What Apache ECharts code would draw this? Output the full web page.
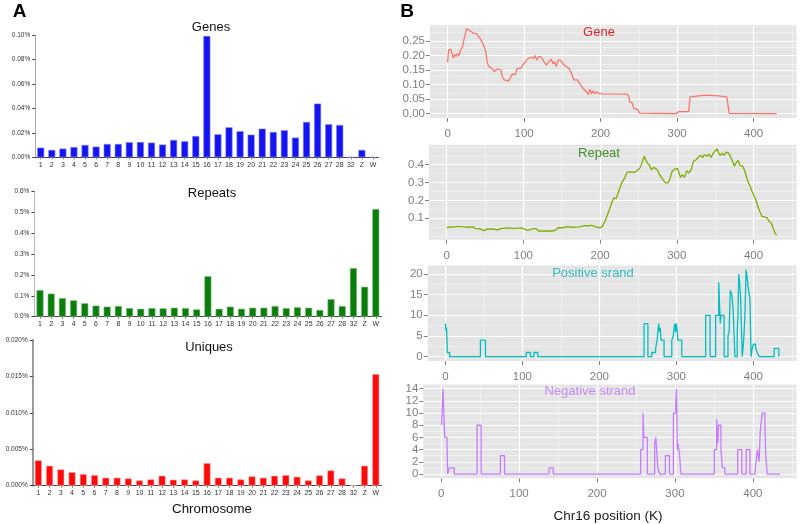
<!DOCTYPE html>
<html><head><meta charset="utf-8">
<script src="https://cdn.jsdelivr.net/npm/echarts@6/dist/echarts.min.js"></script>
<style>html,body{margin:0;padding:0;background:#fff}#c{width:800px;height:524px}</style>
</head><body><div id="c"></div>
<script>
// ---------- Panel A data (percent) ----------
const chromosomes = ['1','2','3','4','5','6','7','8','9','10','11','12','13','14','15','16','17','18','19','20','21','22','23','24','25','26','27','28','32','Z','W'];
const genesPct = [0.0079,0.006,0.0071,0.0084,0.0101,0.0087,0.0109,0.0109,0.0123,0.0125,0.012,0.0104,0.0142,0.0131,0.0174,0.0992,0.0188,0.0245,0.0213,0.0185,0.0234,0.0207,0.0221,0.0161,0.0289,0.0439,0.027,0.0264,0,0.006,0];
const repeatsPct = [0.127,0.11,0.089,0.078,0.064,0.053,0.048,0.051,0.041,0.038,0.041,0.04,0.043,0.041,0.035,0.193,0.038,0.048,0.038,0.043,0.043,0.051,0.041,0.045,0.043,0.032,0.084,0.051,0.232,0.143,0.514];
const uniquesPct = [0.00348,0.00274,0.00224,0.00187,0.0016,0.00146,0.0011,0.0011,0.001,0.00073,0.00087,0.00137,0.00082,0.00087,0.00073,0.00311,0.0011,0.0011,0.00087,0.00128,0.0011,0.00137,0.00146,0.00123,0.00073,0.00142,0.0021,0.001,0,0.00274,0.01532];
const genesTicks = [0, 0.10, 0.02];
const repeatsTicks = [0, 0.6, 0.1];
const uniquesTicks = [0, 0.020, 0.005];

// ---------- Panel B data: [position K, value] ----------
const geneDensity = [[0,0.177],[1.3,0.219],[3,0.214],[4.3,0.221],[6,0.219],[7.4,0.19],[9,0.205],[11,0.196],[13,0.207],[15,0.2],[17,0.219],[19.6,0.23],[21.7,0.259],[24.8,0.292],[27,0.289],[30,0.284],[33.5,0.277],[37.8,0.275],[41,0.265],[44.8,0.248],[47.8,0.23],[50,0.213],[52,0.173],[54,0.162],[58,0.156],[61,0.145],[63,0.15],[65,0.154],[69.6,0.15],[71.7,0.127],[74,0.116],[76,0.122],[79.6,0.112],[82.6,0.127],[84.8,0.137],[88,0.133],[91,0.156],[95.6,0.156],[100,0.173],[104,0.187],[108.7,0.194],[111,0.198],[112,0.19],[114,0.2],[116.5,0.185],[118.7,0.196],[121.7,0.196],[126,0.179],[129,0.167],[132.6,0.179],[135.6,0.187],[137.8,0.171],[140,0.179],[142,0.162],[144.8,0.185],[147.8,0.183],[151,0.171],[154,0.164],[158.7,0.156],[161,0.145],[165,0.116],[169.6,0.116],[172.6,0.104],[176,0.091],[180,0.079],[184,0.066],[186,0.084],[188,0.068],[190,0.079],[192.6,0.068],[194,0.075],[197.8,0.07],[202,0.068],[234.8,0.067],[237,0.058],[238,0.041],[241,0.038],[243.5,0.018],[245.6,0.013],[249,0.013],[251,0.002],[297.8,0],[302,0.007],[315,0.007],[317,0.058],[319.6,0.064],[337,0.064],[350,0.062],[352,0.058],[365,0.058],[368,0.001],[430,0]];
const repeatDensity = [[0,0.046],[3,0.052],[7,0.05],[12,0.053],[16,0.053],[18,0.048],[22.5,0.052],[29,0.05],[34.6,0.052],[37.6,0.042],[43,0.042],[46,0.035],[49,0.031],[52.8,0.04],[61,0.04],[66.6,0.035],[70,0.042],[78.7,0.046],[87,0.044],[98,0.046],[100,0.042],[104.6,0.033],[109,0.037],[112,0.042],[116.8,0.042],[119.8,0.029],[130.6,0.029],[139,0.029],[142.7,0.037],[145.7,0.048],[152,0.046],[156.5,0.053],[163,0.05],[173.8,0.052],[180,0.059],[184.6,0.057],[189,0.061],[192,0.055],[194.6,0.046],[199.8,0.046],[203,0.055],[206,0.079],[209,0.111],[212.8,0.158],[216,0.195],[217.9,0.214],[221,0.21],[225,0.26],[228,0.298],[232,0.325],[235,0.357],[239.6,0.36],[245,0.357],[247.6,0.366],[249.5,0.372],[252.5,0.385],[255,0.415],[257.7,0.447],[259.5,0.428],[261.6,0.409],[264.6,0.396],[266.8,0.372],[269.8,0.385],[272,0.396],[274.6,0.372],[277.6,0.344],[279.8,0.335],[282.8,0.311],[285.4,0.298],[288.4,0.298],[290.6,0.316],[294,0.363],[297,0.374],[299,0.366],[300.9,0.381],[302.7,0.353],[304.9,0.329],[307,0.344],[310,0.329],[313,0.366],[315.7,0.353],[318.7,0.372],[321.7,0.419],[325,0.428],[327.3,0.419],[330.4,0.452],[333.8,0.441],[336,0.456],[339,0.447],[341.6,0.46],[344.6,0.441],[347.7,0.465],[350,0.471],[352.4,0.489],[354.6,0.465],[356.8,0.452],[359,0.465],[361.9,0.452],[364,0.471],[367.6,0.465],[369.3,0.456],[372.7,0.419],[375,0.391],[377,0.409],[380,0.424],[382.5,0.396],[385.9,0.391],[388,0.372],[390,0.344],[392.6,0.307],[395.5,0.279],[398,0.251],[401,0.223],[403,0.204],[405,0.176],[408,0.139],[411,0.111],[415,0.106],[418,0.102],[420,0.084],[423,0.074],[425.6,0.046],[428,0.018],[430,0.005]];
const positiveStrand = [[0,8],[1,8],[1,6],[1.5,6],[1.5,7],[2.5,7],[2.5,1],[5.5,1],[5.5,0],[45.5,0],[45.5,4],[52,4],[52,0],[105,0],[105,1],[110.5,1],[110.5,0],[115,0],[115,1],[120,1],[120,0],[258,0],[258,8],[263,8],[263,0],[268,0],[268,1],[273,1],[273,2],[275,2],[275,4],[277,4],[277,8],[278,8],[278,6],[279,6],[279,7],[280,7],[280,4],[284,4],[284,0],[294,0],[294,4],[296,4],[296,5],[297,5],[297,7],[298,7],[298,8],[299,8],[299,6],[300,6],[300,8],[302,8],[302,4],[307,4],[307,0],[338,0],[338,10],[343.7,10],[343.7,0],[351,0],[351,10],[355,10],[355,18],[357,18],[357,8],[358,8],[358,10],[362,10],[362,0],[367,0],[367,5],[368.5,5],[368.5,6],[370,6],[370,16],[372,16],[372,15],[373,15],[373,13],[374,13],[374,10],[376,10],[376,0],[379,0],[379,6],[380,6],[380,10],[381,10],[381,20],[382.5,20],[382.5,17],[383.5,17],[383.5,14],[385.5,14],[385.5,0],[387,0],[387,3],[388,3],[388,6],[389,6],[389,10],[390.5,10],[390.5,21],[392,21],[392,19],[393,19],[393,17],[395.5,17],[395.5,14],[397,14],[397,0],[398.5,0],[398.5,2],[400,2],[400,3],[403,3],[403,2],[405,2],[405,1],[407.5,1],[407.5,0],[427,0],[427,2],[433,2],[433,0]];
const negativeStrand = [[0.5,8],[1.5,8],[2.2,14],[2.8,12],[3.3,10],[3.9,8],[4.5,6],[7.3,6],[8.2,0],[10.3,0],[10.3,1],[16.8,1],[16.8,0],[46,0],[46,8],[51.2,8],[51.2,0],[76,0],[76,3],[81.3,3],[81.3,0],[138.5,0],[138.5,1],[143.7,1],[143.7,0],[256,0],[256,4],[259,4],[259,10],[260,10],[260,6],[264.5,6],[264.5,0],[274,0],[274,5],[275.5,5],[275.5,6],[278,6],[278,1],[280.4,1],[280.4,0],[287.7,0],[287.7,3],[293,3],[293,0],[298,0],[298,10],[301,10],[301,12],[302,12],[302,14],[303,14],[303,4],[304,4],[304,5],[306,5],[306,3],[307.5,3],[307.5,0],[350.5,0],[350.5,4],[353.5,4],[353.5,9],[355,9],[355,5],[356,5],[356,8],[359,8],[359,4],[361,4],[361,1],[364,1],[364,0],[380.5,0],[380.5,4],[385.8,4],[385.8,0],[391.5,0],[391.5,4],[396.3,4],[396.3,0],[403,0],[403,1],[404,1],[404,2],[406,2],[406,4],[407,4],[407,3],[408,3],[408,2],[409.5,2],[409.5,7],[412,7],[412,10],[415.5,10],[415.5,8],[416.5,8],[416.5,3],[418.5,3],[418.5,0],[435,0]];

// ---------- Panel B axis breaks ----------
const posMajor = [0,100,200,300,400];
const posMinor = [50,150,250,350,450];
const geneMajor = [0,0.05,0.10,0.15,0.20,0.25];
const geneMinor = [0.025,0.075,0.125,0.175,0.225,0.275,0.30];
const repeatMajor = [0.1,0.2,0.3,0.4];
const repeatMinor = [0,0.05,0.15,0.25,0.35,0.45,0.5];
const plusMajor = [0,5,10,15,20];
const plusMinor = [2.5,7.5,12.5,17.5];
const minusMajor = [0,2,4,6,8,10,12,14];
const minusMinor = [1,3,5,7,9,11,13];

const FONT = 'Liberation Sans, Arial, sans-serif';
const chart = echarts.init(document.getElementById('c'), null, {renderer:'canvas'});

const baseGrids = [
  {left:35.2, top:35, width:343.3, height:122.3},
  {left:34.4, top:191, width:347, height:125.7},
  {left:32.7, top:340, width:348.7, height:145.7},
  {left:430, top:25, width:366.5, height:93},
  {left:429, top:144.7, width:367.5, height:95},
  {left:427.7, top:265.5, width:368.8, height:95.5},
  {left:423.3, top:384.4, width:373.2, height:93.9}
];
const TICK = 4;
const grids = baseGrids.map((g,i)=>Object.assign({}, g, i>=3 ? {show:true, backgroundColor:'#E5E5E5', borderWidth:0} : {}, {containLabel:false, outerBoundsMode:'none'}));

const barSets = [
  {data:genesPct, ticks:genesTicks, color:'#1414F0', border:'#8080ff', dec:2, axisW:1, axisC:'#aaa'},
  {data:repeatsPct, ticks:repeatsTicks, color:'#0A7D0A', border:'#7fc07f', dec:1, axisW:1, axisC:'#bbb'},
  {data:uniquesPct, ticks:uniquesTicks, color:'#FF0A0A', border:'#ffb0b0', dec:3, axisW:2, axisC:'#9a9a9a'}
];

const xAxes = [], yAxes = [], series = [];
barSets.forEach((b,i)=>{
  xAxes.push({type:'category', gridIndex:i, data:chromosomes,
    axisLine:{show:true, lineStyle:{color:'#444', width:1}},
    axisTick:{show:true, alignWithLabel:true, length:2, lineStyle:{color:'#777'}},
    axisLabel:{interval:0, fontSize:7, color:'#333', margin:4, fontFamily:FONT}});
  yAxes.push({type:'value', gridIndex:i, min:b.ticks[0], max:b.ticks[1], interval:b.ticks[2],
    axisLine:{show:true, lineStyle:{color:b.axisC, width:b.axisW}},
    axisTick:{show:true, length:3, lineStyle:{color:'#444'}},
    axisLabel:{formatter:v=>v.toFixed(b.dec)+'%', fontSize:6.5, color:'#333', margin:5, fontFamily:FONT},
    splitLine:{show:false}});
  series.push({type:'bar', xAxisIndex:i, yAxisIndex:i, data:b.data, barWidth:7,
    itemStyle:{color:b.color, borderColor:b.border, borderWidth:0.6}, animation:false, silent:true});
});

const lineSets = [
  {data:geneDensity, color:'#F8766D', yr:[-0.0148,0.305], maj:geneMajor, min:geneMinor, fmt:v=>v.toFixed(2)},
  {data:repeatDensity, color:'#7CAE00', yr:[-0.0198,0.512], maj:repeatMajor, min:repeatMinor, fmt:v=>v.toFixed(1)},
  {data:positiveStrand, color:'#00BFC4', yr:[-1.05,22.05], maj:plusMajor, min:plusMinor, fmt:v=>String(v)},
  {data:negativeStrand, color:'#C77CFF', yr:[-0.7,14.7], maj:minusMajor, min:minusMinor, fmt:v=>String(v)}
];
const XR = [-23, 456];
const minorStyle = {color:'#F2F2F2', width:0.8, type:'solid'};
const majorStyle = {color:'#FFFFFF', width:1.2, type:'solid'};
const tickStyle = {color:'#7F7F7F', width:1, type:'solid'};
const markLineBase = {silent:true, symbol:['none','none'], label:{show:false}, animation:false, emphasis:{disabled:true}};
const hiddenAxis = (type, gi, range)=>({type, gridIndex:gi, min:range[0], max:range[1], show:false});

lineSets.forEach((s,k)=>{
  const i = k+3;
  const g = baseGrids[i];
  const xi = xAxes.length, yi = yAxes.length;
  xAxes.push({type:'value', gridIndex:i, min:XR[0], max:XR[1],
    axisLine:{show:false}, axisTick:{show:false},
    axisLabel:{customValues:posMajor, color:'#7F7F7F', fontSize:11.5, margin:6+TICK, fontFamily:FONT},
    splitLine:{show:false}, minorSplitLine:{show:false}});
  yAxes.push({type:'value', gridIndex:i, min:s.yr[0], max:s.yr[1],
    axisLine:{show:false}, axisTick:{show:false},
    axisLabel:{customValues:s.maj, formatter:s.fmt, color:'#7F7F7F', fontSize:11.5, margin:1+TICK, fontFamily:FONT},
    splitLine:{show:false}});
  const ml = [];
  posMinor.forEach(v=>ml.push({xAxis:v, lineStyle:minorStyle}));
  s.min.forEach(v=>ml.push({yAxis:v, lineStyle:minorStyle}));
  posMajor.forEach(v=>ml.push({xAxis:v, lineStyle:majorStyle}));
  s.maj.forEach(v=>ml.push({yAxis:v, lineStyle:majorStyle}));
  series.push({type:'line', xAxisIndex:xi, yAxisIndex:yi, data:[], z:1, silent:true, animation:false,
    markLine:Object.assign({z:1, data:ml}, markLineBase)});
  series.push({type:'line', xAxisIndex:xi, yAxisIndex:yi, data:s.data, z:10, showSymbol:false, symbol:'none',
    lineStyle:{color:s.color, width:1.3}, animation:false, silent:true});

  // tick strip below the panel (same x scale)
  const gx = grids.length;
  grids.push({left:g.left, top:g.top+g.height, width:g.width, height:TICK, containLabel:false, outerBoundsMode:'none'});
  const txi = xAxes.length, tyi = yAxes.length;
  xAxes.push(hiddenAxis('value', gx, XR));
  yAxes.push(hiddenAxis('value', gx, [0,1]));
  series.push({type:'line', xAxisIndex:txi, yAxisIndex:tyi, data:[], silent:true, animation:false,
    markLine:Object.assign({data:posMajor.map(v=>({xAxis:v, lineStyle:tickStyle}))}, markLineBase)});

  // tick strip left of the panel (same y scale)
  const gy = grids.length;
  grids.push({left:g.left-TICK, top:g.top, width:TICK, height:g.height, containLabel:false, outerBoundsMode:'none'});
  const uxi = xAxes.length, uyi = yAxes.length;
  xAxes.push(hiddenAxis('value', gy, [0,1]));
  yAxes.push(hiddenAxis('value', gy, s.yr));
  series.push({type:'line', xAxisIndex:uxi, yAxisIndex:uyi, data:[], silent:true, animation:false,
    markLine:Object.assign({data:s.maj.map(v=>({yAxis:v, lineStyle:tickStyle}))}, markLineBase)});
});

const T = (text,x,y,size,color,weight)=>({text, left:x, top:y, textAlign:'center', textVerticalAlign:'middle', padding:0,
  textStyle:{fontSize:size, color:color, fontWeight:weight||'normal', fontFamily:FONT}});

chart.setOption({
  backgroundColor:'#ffffff',
  animation:false,
  title:[
    T('A',19.7,11.7,19,'#000','bold'),
    T('B',407,11.7,19,'#000','bold'),
    T('Genes',211,27,13,'#111'),
    T('Repeats',212,193,13,'#111'),
    T('Uniques',209,347,13,'#111'),
    T('Chromosome',212,509,13.3,'#111'),
    T('Gene',599,32.5,13,'#E3242B'),
    T('Repeat',599,153,13,'#3D8F2A'),
    T('Positive srand',593,273.5,13,'#35BDBE'),
    T('Negative strand',590,391.5,13,'#C68AF0'),
    T('Chr16 position (K)',608,516,13.5,'#1a1a1a')
  ],
  grid:grids, xAxis:xAxes, yAxis:yAxes, series:series
});
</script></body></html>
